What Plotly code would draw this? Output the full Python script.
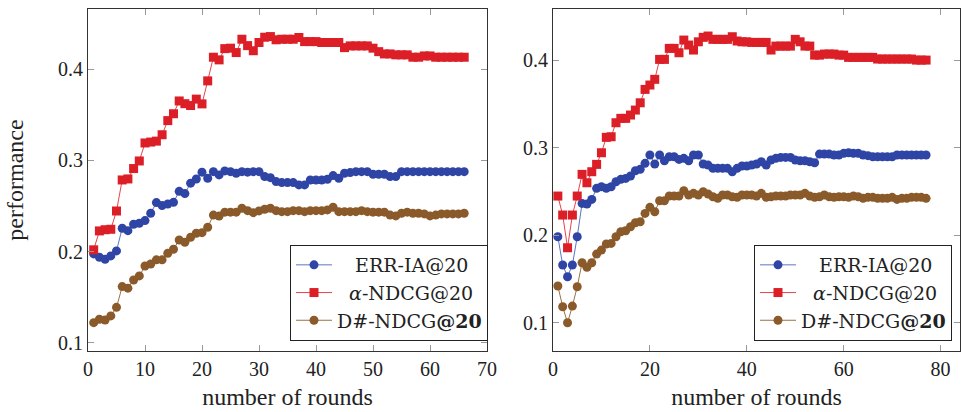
import plotly.graph_objects as go

# ---------------- data ----------------
rounds_left = list(range(1, 67))
err_left = [0.1975, 0.1939, 0.1917, 0.1953, 0.2008, 0.2256, 0.2230, 0.2300, 0.2311, 0.2340,
            0.2420, 0.2537, 0.2504, 0.2522, 0.2540, 0.2660, 0.2636, 0.2750, 0.2795, 0.2870,
            0.2804, 0.2876, 0.2840, 0.2884, 0.2876, 0.2859, 0.2876, 0.2870, 0.2876, 0.2876,
            0.2822, 0.2810, 0.2767, 0.2756, 0.2756, 0.2756, 0.2731, 0.2731, 0.2785, 0.2785,
            0.2785, 0.2793, 0.2833, 0.2804, 0.2859, 0.2866, 0.2876, 0.2876, 0.2876, 0.2848,
            0.2848, 0.2848, 0.2822, 0.2822, 0.2876, 0.2876, 0.2876, 0.2876, 0.2876, 0.2876,
            0.2876, 0.2876, 0.2876, 0.2876, 0.2876, 0.2876]
andcg_left = [0.2020, 0.2227, 0.2240, 0.2245, 0.2445, 0.2785, 0.2796, 0.2910, 0.2993, 0.3190,
              0.3200, 0.3210, 0.3280, 0.3435, 0.3510, 0.3650, 0.3620, 0.3600, 0.3670, 0.3618,
              0.3870, 0.4129, 0.4100, 0.4223, 0.4228, 0.4180, 0.4326, 0.4256, 0.4200, 0.4290,
              0.4348, 0.4355, 0.4320, 0.4326, 0.4326, 0.4326, 0.4345, 0.4300, 0.4300, 0.4300,
              0.4290, 0.4290, 0.4290, 0.4290, 0.4234, 0.4253, 0.4253, 0.4253, 0.4253, 0.4228,
              0.4190, 0.4165, 0.4165, 0.4155, 0.4155, 0.4155, 0.4129, 0.4129, 0.4143, 0.4143,
              0.4129, 0.4129, 0.4129, 0.4129, 0.4129, 0.4129]
dndcg_left = [0.1222, 0.1260, 0.1252, 0.1296, 0.1390, 0.1617, 0.1600, 0.1690, 0.1734, 0.1843,
              0.1865, 0.1910, 0.1910, 0.1982, 0.2026, 0.2128, 0.2103, 0.2158, 0.2201, 0.2208,
              0.2267, 0.2400, 0.2390, 0.2432, 0.2432, 0.2432, 0.2475, 0.2449, 0.2427, 0.2446,
              0.2464, 0.2475, 0.2449, 0.2438, 0.2438, 0.2449, 0.2449, 0.2438, 0.2449, 0.2449,
              0.2449, 0.2457, 0.2486, 0.2438, 0.2438, 0.2438, 0.2438, 0.2449, 0.2438, 0.2432,
              0.2432, 0.2432, 0.2400, 0.2391, 0.2421, 0.2432, 0.2421, 0.2421, 0.2413, 0.2391,
              0.2400, 0.2413, 0.2413, 0.2413, 0.2413, 0.2421]

rounds_right = list(range(1, 78))
err_right = [0.1983, 0.1660, 0.1526, 0.1660, 0.1983, 0.2364, 0.2357, 0.2410, 0.2536, 0.2554,
             0.2536, 0.2554, 0.2611, 0.2639, 0.2650, 0.2677, 0.2737, 0.2753, 0.2822, 0.2917,
             0.2814, 0.2917, 0.2851, 0.2897, 0.2897, 0.2867, 0.2879, 0.2851, 0.2917, 0.2917,
             0.2814, 0.2802, 0.2765, 0.2765, 0.2765, 0.2765, 0.2726, 0.2765, 0.2791, 0.2791,
             0.2802, 0.2814, 0.2840, 0.2802, 0.2860, 0.2879, 0.2890, 0.2890, 0.2890, 0.2860,
             0.2851, 0.2851, 0.2840, 0.2829, 0.2928, 0.2928, 0.2928, 0.2917, 0.2917, 0.2936,
             0.2943, 0.2936, 0.2936, 0.2917, 0.2910, 0.2897, 0.2897, 0.2897, 0.2897, 0.2897,
             0.2917, 0.2917, 0.2917, 0.2917, 0.2917, 0.2917, 0.2917]
andcg_right = [0.2448, 0.2231, 0.1857, 0.2231, 0.2448, 0.2696, 0.2600, 0.2726, 0.2810, 0.2943,
               0.3119, 0.3126, 0.3286, 0.3336, 0.3336, 0.3374, 0.3431, 0.3514, 0.3667, 0.3717,
               0.3782, 0.4010, 0.4010, 0.4136, 0.4136, 0.4086, 0.4231, 0.4174, 0.4117, 0.4211,
               0.4262, 0.4277, 0.4239, 0.4239, 0.4239, 0.4239, 0.4269, 0.4220, 0.4211, 0.4211,
               0.4204, 0.4204, 0.4204, 0.4204, 0.4117, 0.4162, 0.4162, 0.4162, 0.4162, 0.4239,
               0.4211, 0.4162, 0.4162, 0.4059, 0.4059, 0.4071, 0.4071, 0.4071, 0.4059, 0.4059,
               0.4033, 0.4033, 0.4033, 0.4033, 0.4033, 0.4033, 0.4014, 0.4014, 0.4014, 0.4014,
               0.4014, 0.4014, 0.4014, 0.4014, 0.4002, 0.4002, 0.4002]
dndcg_right = [0.1420, 0.1183, 0.1000, 0.1190, 0.1411, 0.1686, 0.1633, 0.1686, 0.1785, 0.1830,
               0.1900, 0.1907, 0.1983, 0.2040, 0.2051, 0.2097, 0.2143, 0.2154, 0.2250, 0.2319,
               0.2269, 0.2394, 0.2394, 0.2448, 0.2448, 0.2448, 0.2509, 0.2460, 0.2479, 0.2460,
               0.2497, 0.2471, 0.2440, 0.2422, 0.2460, 0.2460, 0.2440, 0.2433, 0.2460, 0.2460,
               0.2460, 0.2448, 0.2479, 0.2433, 0.2440, 0.2448, 0.2448, 0.2448, 0.2460, 0.2460,
               0.2460, 0.2479, 0.2448, 0.2433, 0.2440, 0.2460, 0.2440, 0.2433, 0.2440, 0.2440,
               0.2433, 0.2448, 0.2440, 0.2422, 0.2433, 0.2433, 0.2422, 0.2422, 0.2422, 0.2433,
               0.2410, 0.2422, 0.2422, 0.2433, 0.2433, 0.2433, 0.2422]

NB = "\u00a0"
series_names = [NB * 3 + "ERR-IA@20", NB * 2 + "<i>α</i>-NDCG@20", "D#-NDCG<b>@20</b>"]
x_ticks_left = [0, 10, 20, 30, 40, 50, 60, 70]
x_ticks_right = [0, 20, 40, 60, 80]
y_ticks = [0.1, 0.2, 0.3, 0.4]

# ---------------- style ----------------
FONT = "Liberation Serif"
LEG_FONT = "DejaVu Serif"
BLUE, BLUE_L = "#2f45a6", "#5b74c4"
RED, RED_L = "#dc1f27", "#e8434a"
BROWN, BROWN_L = "#8a5a2a", "#9c7045"

styles = [
    dict(color=BLUE, line=BLUE_L, symbol="circle", size=9),
    dict(color=RED, line=RED_L, symbol="square", size=9),
    dict(color=BROWN, line=BROWN_L, symbol="circle", size=9),
]

fig = go.Figure()

def add_panel(xs, ys_list, xa, ya, legend):
    for ys, st, name in zip(ys_list, styles, series_names):
        fig.add_trace(go.Scatter(
            x=xs, y=ys, name=name, mode="lines+markers",
            xaxis=xa, yaxis=ya, legend=legend,
            line=dict(color=st["line"], width=1),
            marker=dict(color=st["color"], symbol=st["symbol"], size=st["size"],
                        line=dict(width=0)),
        ))

add_panel(rounds_left, [err_left, andcg_left, dndcg_left], "x", "y", "legend")
add_panel(rounds_right, [err_right, andcg_right, dndcg_right], "x2", "y2", "legend2")

axis_common = dict(
    showgrid=False, zeroline=False, showline=True, linecolor="#333", linewidth=1,
    mirror="ticks", ticks="inside", ticklen=6, tickcolor="#999", tickwidth=1,
    tickfont=dict(family=FONT, size=20, color="#222"), automargin=False,
)
title_font = dict(family=FONT, size=24, color="#222")

legend_common = dict(
    font=dict(family=LEG_FONT, size=19, color="#222"),
    bgcolor="white", bordercolor="#222", borderwidth=1,
    xanchor="right", yanchor="bottom", itemwidth=36,
    tracegroupgap=0,
)

fig.update_layout(
    width=962, height=412, autosize=False,
    margin=dict(l=0, r=0, t=0, b=0, pad=0),
    paper_bgcolor="white", plot_bgcolor="white",
    xaxis=dict(domain=[88/962, 487/962], range=[0, 70], tickvals=x_ticks_left,
               title=dict(text="number of rounds", font=title_font, standoff=9),
               anchor="y", **axis_common),
    yaxis=dict(domain=[1-351/412, 1-9/412], range=[0.0912, 0.4657], tickvals=y_ticks,
               title=dict(text="performance", font=title_font, standoff=27),
               anchor="x", **axis_common),
    xaxis2=dict(domain=[553/962, 960/962], range=[0, 84], tickvals=x_ticks_right,
                title=dict(text="number of rounds", font=title_font, standoff=9),
                anchor="y2", **axis_common),
    yaxis2=dict(domain=[1-351/412, 1-9/412], range=[0.0677, 0.4586], tickvals=y_ticks,
                anchor="x2", **axis_common),
    legend=dict(x=488/962, y=1-341/412, **legend_common),
    legend2=dict(x=952/962, y=1-341/412, **legend_common),
)

fig.write_html("out.html")
